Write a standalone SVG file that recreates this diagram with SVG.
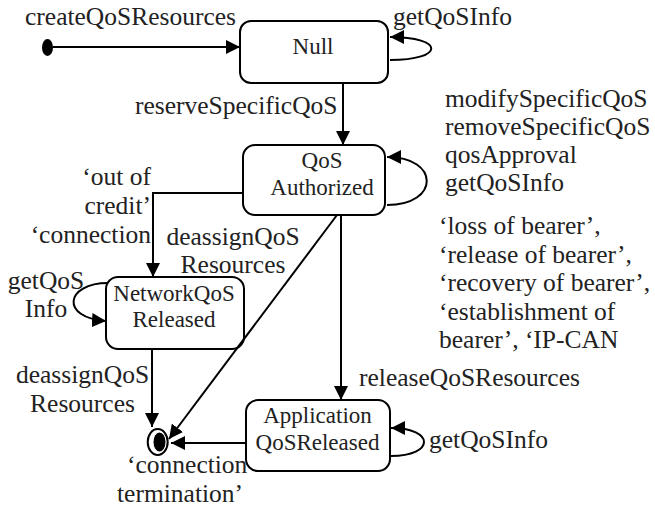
<svg xmlns="http://www.w3.org/2000/svg" width="655" height="511" viewBox="0 0 655 511">
<style>
  .state { fill: #ffffff; stroke: #000000; stroke-width: 2; }
  .edge { fill: none; stroke: #000000; stroke-width: 2; }
  .lbl { font-family: "Liberation Serif", "Times New Roman", serif; font-size: 25.5px; fill: #222222; }
  .nlbl { font-family: "Liberation Serif", "Times New Roman", serif; font-size: 23px; fill: #222222; text-anchor: middle; }
</style>
<defs>
  <marker id="arrow" markerUnits="userSpaceOnUse" markerWidth="14" markerHeight="14" refX="14" refY="7" orient="auto">
    <path d="M0,0 L14,7 L0,14 z" fill="#000000"/>
  </marker>
</defs>

<g id="initial">
  <ellipse cx="47.5" cy="47.5" rx="5.5" ry="8.5" fill="#000000"/>
</g>

<g id="final">
  <ellipse cx="157.7" cy="442" rx="10" ry="13" fill="#ffffff" stroke="#000000" stroke-width="2"/>
  <ellipse cx="159.5" cy="442" rx="6" ry="9.5" fill="#000000"/>
</g>

<g id="null">
  <rect class="state" x="240" y="21" width="148" height="62" rx="11"/>
  <text class="nlbl" x="313" y="54">Null</text>
</g>

<g id="qos-authorized">
  <rect class="state" x="243" y="145" width="142" height="70" rx="12"/>
  <text class="nlbl" x="322" y="168">QoS</text>
  <text class="nlbl" x="322" y="195">Authorized</text>
</g>

<g id="network-qos-released">
  <rect class="state" x="106" y="277" width="138" height="72" rx="12"/>
  <text class="nlbl" x="174" y="301">NetworkQoS</text>
  <text class="nlbl" x="174" y="327">Released</text>
</g>

<g id="application-qos-released">
  <rect class="state" x="246" y="400" width="144" height="71" rx="12"/>
  <text class="nlbl" x="317.5" y="423">Application</text>
  <text class="nlbl" x="317.5" y="450">QoSReleased</text>
</g>

<g id="connectors">
  <line class="edge" x1="53" y1="47" x2="240" y2="47" marker-end="url(#arrow)"/>
  <path class="edge" d="M390 60 C445 60 445 37 390 37" marker-end="url(#arrow)"/>
  <line class="edge" x1="343" y1="83" x2="343" y2="145" marker-end="url(#arrow)"/>
  <path class="edge" d="M387 205 C440 205 440 157 387 157" marker-end="url(#arrow)"/>
  <polyline class="edge" points="243,193 153,193 153,277" marker-end="url(#arrow)"/>
  <line class="edge" x1="337" y1="215" x2="169" y2="439" marker-end="url(#arrow)"/>
  <line class="edge" x1="341" y1="215" x2="341" y2="400" marker-end="url(#arrow)"/>
  <path class="edge" d="M108 283 C65 283 60 318 106 321" marker-end="url(#arrow)"/>
  <line class="edge" x1="152" y1="349" x2="152" y2="427" marker-end="url(#arrow)"/>
  <path class="edge" d="M391 456 C435 456 435 428 391 428" marker-end="url(#arrow)"/>
  <line class="edge" x1="246" y1="443" x2="171" y2="443" marker-end="url(#arrow)"/>

  <g id="labels">
    <text class="lbl" x="25" y="25">createQoSResources</text>
    <text class="lbl" x="393" y="25">getQoSInfo</text>
    <text class="lbl" x="135" y="114">reserveSpecificQoS</text>
    <text class="lbl" x="445" y="107">modifySpecificQoS</text>
    <text class="lbl" x="445" y="135">removeSpecificQoS</text>
    <text class="lbl" x="445" y="163">qosApproval</text>
    <text class="lbl" x="445" y="191">getQoSInfo</text>
    <text class="lbl" x="439" y="234">‘loss of bearer’,</text>
    <text class="lbl" x="439" y="262.5">‘release of bearer’,</text>
    <text class="lbl" x="439" y="291">‘recovery of bearer’,</text>
    <text class="lbl" x="439" y="319.5">‘establishment of</text>
    <text class="lbl" x="439" y="348">bearer’, ‘IP-CAN</text>
    <text class="lbl" x="151" y="185" text-anchor="end">‘out of</text>
    <text class="lbl" x="151" y="214" text-anchor="end">credit’</text>
    <text class="lbl" x="151" y="243" text-anchor="end">‘connection</text>
    <text class="lbl" x="233" y="245" text-anchor="middle">deassignQoS</text>
    <text class="lbl" x="233" y="273" text-anchor="middle">Resources</text>
    <text class="lbl" x="46" y="289" text-anchor="middle">getQoS</text>
    <text class="lbl" x="46" y="317" text-anchor="middle">Info</text>
    <text class="lbl" x="82.5" y="383" text-anchor="middle">deassignQoS</text>
    <text class="lbl" x="82.5" y="412" text-anchor="middle">Resources</text>
    <text class="lbl" x="359" y="386">releaseQoSResources</text>
    <text class="lbl" x="429" y="448">getQoSInfo</text>
    <text class="lbl" x="127" y="473">‘connection</text>
    <text class="lbl" x="117" y="502">termination’</text>
  </g>
</g>
</svg>
